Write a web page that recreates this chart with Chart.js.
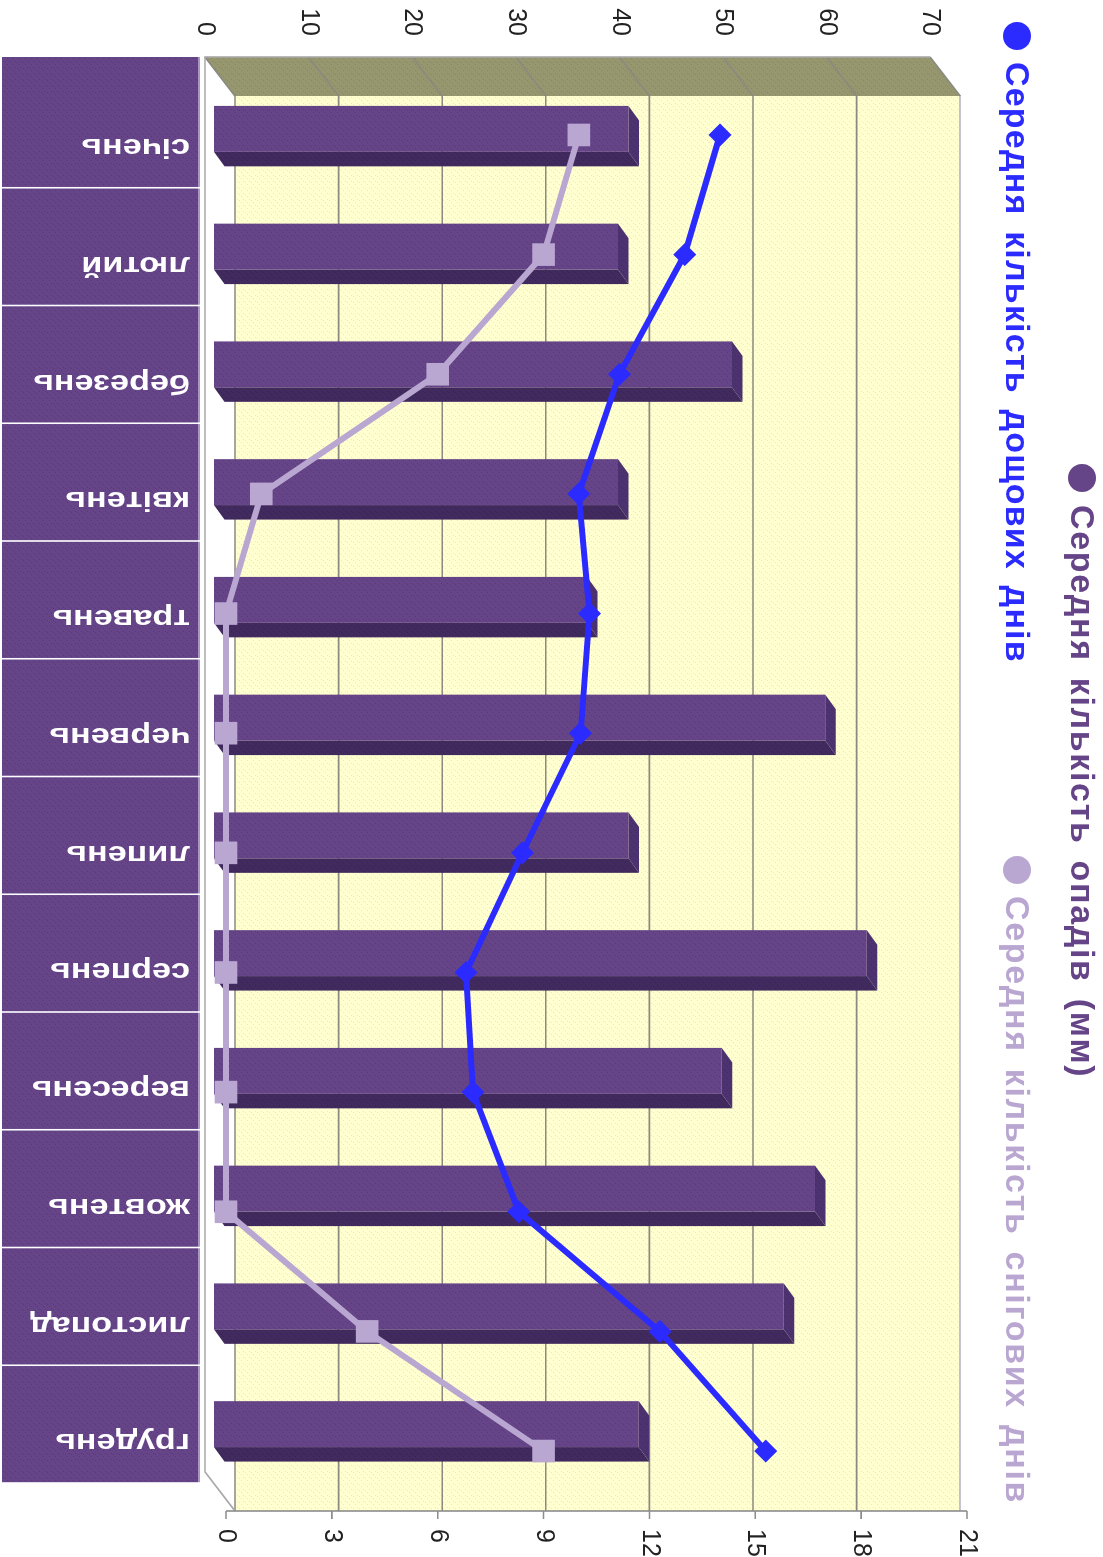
<!DOCTYPE html>
<html>
<head>
<meta charset="utf-8">
<title>Опади</title>
<script src="https://cdn.jsdelivr.net/npm/chart.js@4"></script>
<style>
  html, body { margin: 0; padding: 0; background: #fff; overflow: hidden; }
  body { width: 1103px; height: 1557px; position: relative; }
  /* the whole picture is a normal column chart turned a quarter to the right */
  #wrap { position: absolute; left: 0; top: 0; width: 1557px; height: 1103px;
          transform-origin: 0 0; transform: translate(1103px, 0) rotate(90deg); filter: blur(0.45px); }
</style>
</head>
<body>
<div id="wrap"><canvas id="chart" width="1557" height="1103"></canvas></div>
<script>
const months = ['січень', 'лютий', 'березень', 'квітень', 'травень', 'червень', 'липень', 'серпень', 'вересень', 'жовтень', 'листопад', 'грудень'];
const precipitation = [40, 39, 50, 39, 36, 59, 40, 63, 49, 58, 55, 41];
const rainDays = [14, 13, 11.15, 10, 10.3, 10.05, 8.4, 6.8, 7, 8.3, 12.3, 15.3];
const snowDays = [10, 9, 6, 1, 0, 0, 0, 0, 0, 0, 4, 9];
const precipTicks = [0, 10, 20, 30, 40, 50, 60, 70];
const dayTicks = [0, 3, 6, 9, 12, 15, 18, 21];
const precipName = 'Середня кількість опадів (мм)';
const rainName = 'Середня кількість дощових днів';
const snowName = 'Середня кількість снігових днів';

const PURPLE = '#654488';
const PURPLE_DARK = '#412A5E';
const PURPLE_SIDE = '#4C3370';
const BLUE = '#2B2BFF';
const LILAC = '#B9A7D2';
const GRID = '#8A8A80';

function stipple(base, dot) {
  const tile = document.createElement('canvas');
  tile.width = 6;
  tile.height = 6;
  const c = tile.getContext('2d');
  c.fillStyle = base;
  c.fillRect(0, 0, 6, 6);
  c.fillStyle = dot;
  c.fillRect(1, 1, 1, 1);
  c.fillRect(4, 3, 1, 1);
  c.fillRect(2, 5, 1, 1);
  return c.createPattern(tile, 'repeat');
}

function poly(ctx, pts, fill, stroke) {
  ctx.beginPath();
  pts.forEach((p, i) => (i ? ctx.lineTo(p[0], p[1]) : ctx.moveTo(p[0], p[1])));
  ctx.closePath();
  if (fill) { ctx.fillStyle = fill; ctx.fill(); }
  if (stroke) { ctx.strokeStyle = stroke; ctx.lineWidth = 1.5; ctx.stroke(); }
}

// back wall, side wall, floor and the grid on them
const wallPlugin = {
  id: 'walls',
  beforeDatasetsDraw(chart) {
    const { ctx, scales } = chart;
    const y = scales.y;
    const dx = 39, dy = 30; // depth of the box
    const left = 57, right = 1511 - dx;
    const bottom = y.getPixelForValue(0);
    const top = y.getPixelForValue(70);

    ctx.save();
    poly(ctx, [[left + dx, bottom - dy], [right + dx, bottom - dy], [right + dx, top - dy], [left + dx, top - dy]],
      stipple('#FFFFD0', '#F3E9A6'));
    poly(ctx, [[left, bottom], [left + dx, bottom - dy], [left + dx, top - dy], [left, top]],
      stipple('#96976F', '#85866A'));
    poly(ctx, [[left, bottom], [right, bottom], [right + dx, bottom - dy], [left + dx, bottom - dy]], '#FFFFFF');

    ctx.strokeStyle = GRID;
    ctx.lineWidth = 1.6;
    ctx.beginPath();
    precipTicks.forEach(v => {
      const py = y.getPixelForValue(v);
      ctx.moveTo(left, py);
      ctx.lineTo(left + dx, py - dy);
      ctx.lineTo(right + dx, py - dy);
    });
    ctx.stroke();

    ctx.strokeStyle = '#A9A9A9';
    ctx.beginPath();
    ctx.moveTo(left, top);
    ctx.lineTo(left, bottom);
    ctx.lineTo(right, bottom);
    ctx.lineTo(right + dx, bottom - dy);
    ctx.stroke();
    ctx.strokeStyle = '#C4C4D4';
    ctx.beginPath();
    ctx.moveTo(left + dx, top - dy);
    ctx.lineTo(right + dx, top - dy);
    ctx.stroke();

    // axis line and ticks for the days scale
    const yDays = scales.yDays;
    const ax = right + dx;
    ctx.strokeStyle = '#8C8C8C';
    ctx.beginPath();
    ctx.moveTo(ax, yDays.getPixelForValue(0));
    ctx.lineTo(ax, yDays.getPixelForValue(21));
    dayTicks.forEach(v => {
      const py = yDays.getPixelForValue(v);
      ctx.moveTo(ax, py);
      ctx.lineTo(ax + 8, py);
    });
    ctx.stroke();

    // month cells with their labels
    const x = scales.x;
    const band = x.getPixelForValue(1) - x.getPixelForValue(0);
    const cellTop = 905, cellBottom = 1101;
    const cellFill = stipple(PURPLE, '#57397A');
    months.forEach((m, i) => {
      const c = x.getPixelForValue(i);
      const x0 = i === 0 ? left : c - band / 2 + 0.8;
      const x1 = c + band / 2 - 0.8;
      ctx.fillStyle = cellFill;
      ctx.fillRect(x0, cellTop, x1 - x0, cellBottom - cellTop);
      ctx.fillStyle = '#A897C2';
      ctx.fillRect(x0, cellTop - 2, x1 - x0, 2);
      ctx.save();
      ctx.translate(c + 18, cellTop + 8);
      ctx.rotate(Math.PI / 2);
      ctx.scale(1.22, 1);
      ctx.fillStyle = '#FFFFFF';
      ctx.font = 'bold 28px "Liberation Sans"';
      ctx.textAlign = 'left';
      ctx.textBaseline = 'middle';
      ctx.fillText(m, 0, 0);
      ctx.restore();
    });

    // side and top faces of the bars, the fronts come from the library
    const depthX = 14.5, depthY = 10.5;
    const sideFill = stipple(PURPLE_DARK, '#38244F');
    const topFill = stipple(PURPLE_SIDE, '#432C60');
    chart.getDatasetMeta(0).data.forEach(bar => {
      const l = bar.x - bar.width / 2, r = bar.x + bar.width / 2;
      poly(ctx, [[r, bar.base], [r + depthX, bar.base - depthY], [r + depthX, bar.y - depthY], [r, bar.y]], sideFill);
      poly(ctx, [[l, bar.y], [l + depthX, bar.y - depthY], [r + depthX, bar.y - depthY], [r, bar.y]], topFill);
    });
    ctx.restore();
  },
  afterDraw(chart) {
    // legend rows do not wrap the way Chart.js would wrap them
    const { ctx } = chart;
    const rows = [
      [precipName, PURPLE, 478, 505, 23, '1.65px'],
      [rainName, BLUE, 36, 62, 88, '1.2px'],
      [snowName, LILAC, 870, 896, 88, '1.65px']
    ];
    ctx.save();
    ctx.font = 'bold 34px "Liberation Sans"';
    ctx.wordSpacing = '5px';
    ctx.textAlign = 'left';
    ctx.textBaseline = 'middle';
    rows.forEach(([name, color, dotX, textX, rowY, spacing]) => {
      ctx.fillStyle = color;
      ctx.beginPath();
      ctx.arc(dotX, rowY - 2, 14, 0, Math.PI * 2);
      ctx.fill();
      ctx.letterSpacing = spacing;
      ctx.fillText(name, textX, rowY);
    });
    ctx.restore();
  }
};

const canvas = document.getElementById('chart');
const barFill = stipple(PURPLE, '#57397A');

new Chart(canvas.getContext('2d'), {
  data: {
    labels: months,
    datasets: [
      {
        type: 'bar',
        label: precipName,
        data: precipitation,
        yAxisID: 'yBars',
        backgroundColor: barFill,
        grouped: false,
        categoryPercentage: 1,
        barPercentage: 0.39,
        order: 3
      },
      {
        type: 'line',
        label: rainName,
        data: rainDays.map((v, i) => ({ x: i, y: v })),
        xAxisID: 'xLine',
        yAxisID: 'yDays',
        borderColor: BLUE,
        backgroundColor: BLUE,
        borderWidth: 6,
        pointStyle: 'rectRot',
        pointRadius: 11.5,
        pointBorderWidth: 0,
        tension: 0,
        order: 2
      },
      {
        type: 'line',
        label: snowName,
        data: snowDays.map((v, i) => ({ x: i, y: v })),
        xAxisID: 'xLine',
        yAxisID: 'yDays',
        borderColor: LILAC,
        backgroundColor: LILAC,
        borderWidth: 6,
        pointStyle: 'rect',
        pointRadius: 16,
        pointBorderWidth: 0,
        tension: 0,
        order: 1
      }
    ]
  },
  options: {
    responsive: false,
    animation: false,
    events: [],
    layout: { padding: { left: 0, right: 0, top: 136, bottom: 205 } },
    plugins: { legend: { display: false }, tooltip: { enabled: false } },
    scales: {
      x: { type: 'category', display: false },
      xLine: { type: 'linear', display: false, min: -0.543, max: 11.267 },
      y: {
        position: 'left',
        min: 0,
        max: 73.55,
        grid: { display: false },
        border: { display: false },
        afterFit: scale => { scale.width = 70; },
        afterBuildTicks: scale => { scale.ticks = precipTicks.map(v => ({ value: v })); },
        ticks: {
          padding: 26,
          color: '#222',
          font: { family: '"Liberation Sans Narrow", "Liberation Sans"', size: 25 }
        }
      },
      yBars: { position: 'left', display: false, min: -0.87, max: 72.68 },
      yDays: {
        position: 'right',
        min: -0.595,
        max: 21,
        grid: { display: false },
        border: { display: false },
        afterFit: scale => { scale.width = 74; },
        afterBuildTicks: scale => { scale.ticks = dayTicks.map(v => ({ value: v })); },
        ticks: {
          padding: 38,
          color: '#222',
          font: { family: '"Liberation Sans Narrow", "Liberation Sans"', size: 25 }
        }
      }
    }
  },
  plugins: [wallPlugin]
});
</script>
</body>
</html>
